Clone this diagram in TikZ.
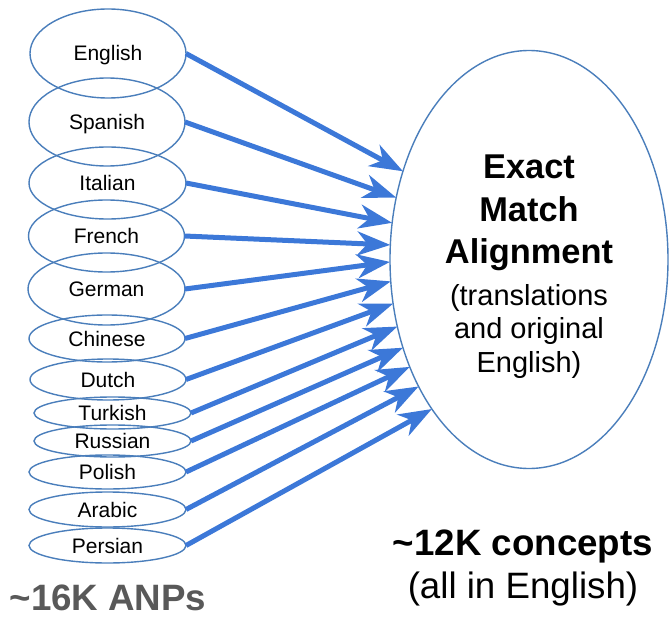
\documentclass[tikz,border=0pt]{standalone}
\usepackage{fontspec}
\setmainfont{Liberation Sans}
\usetikzlibrary{shapes.geometric,arrows.meta}
\definecolor{rim}{RGB}{74,126,187}
\definecolor{flow}{RGB}{60,120,216}
\definecolor{note}{RGB}{89,89,89}
\begin{document}
\begin{tikzpicture}[x=1pt,y=-1pt,
  lang/.style={ellipse,draw=rim,line width=1.4pt,inner sep=0pt,outer sep=0pt,
    text height=17pt,text depth=2pt,font=\fontsize{21}{25}\selectfont},
  feed/.style={draw=flow,line width=5pt,
    -{Stealth[length=33pt,width=24pt,inset=10pt]}}]
\useasboundingbox (0,0) rectangle (670,618);

% source languages
\node[lang,minimum width=156pt,minimum height=89pt] (en) at (108,53.5) {English};
\node[lang,minimum width=156pt,minimum height=88pt] (es) at (107,122) {Spanish};
\node[lang,minimum width=157pt,minimum height=72pt] (it) at (107.5,183) {Italian};
\node[lang,minimum width=156pt,minimum height=72pt] (fr) at (106.5,236) {French};
\node[lang,minimum width=157pt,minimum height=72pt] (de) at (106.5,289) {German};
\node[lang,minimum width=156pt,minimum height=47pt] (zh) at (107,338.5) {Chinese};
\node[lang,minimum width=156pt,minimum height=41pt] (nl) at (108,379.5) {Dutch};
\node[lang,minimum width=157pt,minimum height=32pt] (tr) at (112.5,413) {Turkish};
\node[lang,minimum width=157pt,minimum height=32pt] (ru) at (112.5,441) {Russian};
\node[lang,minimum width=157pt,minimum height=34pt] (pl) at (107.5,472) {Polish};
\node[lang,minimum width=157pt,minimum height=35pt] (ar) at (107.5,509.5) {Arabic};
\node[lang,minimum width=157pt,minimum height=35pt] (fa) at (107.5,545.5) {Persian};

% target concept set
\node[ellipse,draw=rim,line width=1.4pt,inner sep=0pt,outer sep=0pt,
  minimum width=278pt,minimum height=418pt] (hub) at (529,259.5) {};
\node[font=\fontsize{34.4}{42.5}\selectfont\bfseries,align=center] (title) at (529,212.9)
  {Exact\\Match\\Alignment};
\node[font=\fontsize{29}{33.5}\selectfont,align=center] (sub) at (529,331.3)
  {(translations\\and original\\English)};

% alignment arrows
\draw[feed] (en.east) -- (hub.145.7);
\draw[feed] (es.east) -- (hub.155.0);
\draw[feed] (it.east) -- (hub.165.9);
\draw[feed] (fr.east) -- (hub.174.5);
\draw[feed] (de.east) -- (hub.181.4);
\draw[feed] (zh.east) -- (hub.189.5);
\draw[feed] (nl.east) -- (hub.198.0);
\draw[feed] (tr.east) -- (hub.207.9);
\draw[feed] (ru.east) -- (hub.215.7);
\draw[feed] (pl.east) -- (hub.222.8);
\draw[feed] (ar.east) -- (hub.229.8);
\draw[feed] (fa.east) -- (hub.237.1);

% counts
\node[font=\fontsize{36.7}{44}\selectfont\bfseries,anchor=base] (cnt) at (523,555)
  {\textasciitilde 12K concepts};
\node[font=\fontsize{36.7}{44}\selectfont,anchor=base] (cntnote) at (523,598)
  {(all in English)};
\node[font=\fontsize{36.7}{44}\selectfont\bfseries,text=note,anchor=base,
  inner sep=0pt] (anp) at (108,610)
  {\textasciitilde 16K ANPs};
\end{tikzpicture}
\end{document}
